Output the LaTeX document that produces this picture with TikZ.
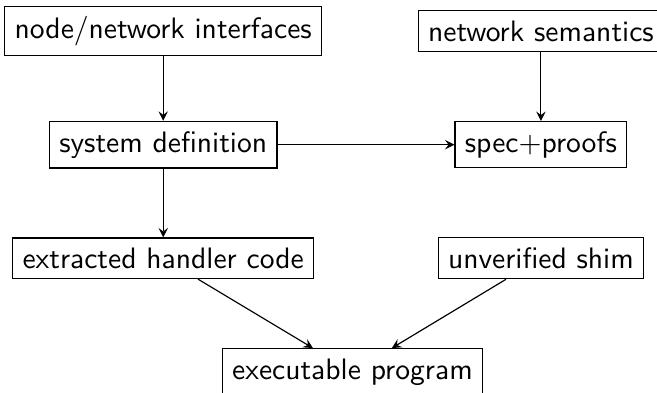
\documentclass[tikz,border=0pt]{standalone}
\usepackage{amsmath}
\usepackage{tikz}
\usetikzlibrary{calc}

\begin{document}
\begin{tikzpicture}[scale=1,transform shape,font=\sffamily]
    \tikzset{box/.style={draw,rectangle}}
    \useasboundingbox (0,0) rectangle (7.81,-4.67);
    \node[box] (iface) at (1.94,-0.37) {node/network interfaces};
    \node[box] (netsem) at (6.43,-0.37) {network semantics};
    \node[box] (sysdef) at (1.94,-1.72) {system definition};
    \node[box] (spec) at (6.43,-1.72) {spec$+$proofs};
    \node[box] (extr) at (1.94,-3.07) {extracted handler code};
    \node[box] (shim) at (6.43,-3.07) {unverified shim};
    \node[box] (exec) at (4.19,-4.42) {executable program};
    \draw[->,>=stealth] (iface) -- (sysdef);
    \draw[->,>=stealth] (netsem) -- (spec);
    \draw[->,>=stealth] (sysdef) -- (spec);
    \draw[->,>=stealth] (sysdef) -- (extr);
    \draw[->,>=stealth] (extr) -- (exec);
    \draw[->,>=stealth] (shim) -- (exec);
  \end{tikzpicture}
\end{document}
